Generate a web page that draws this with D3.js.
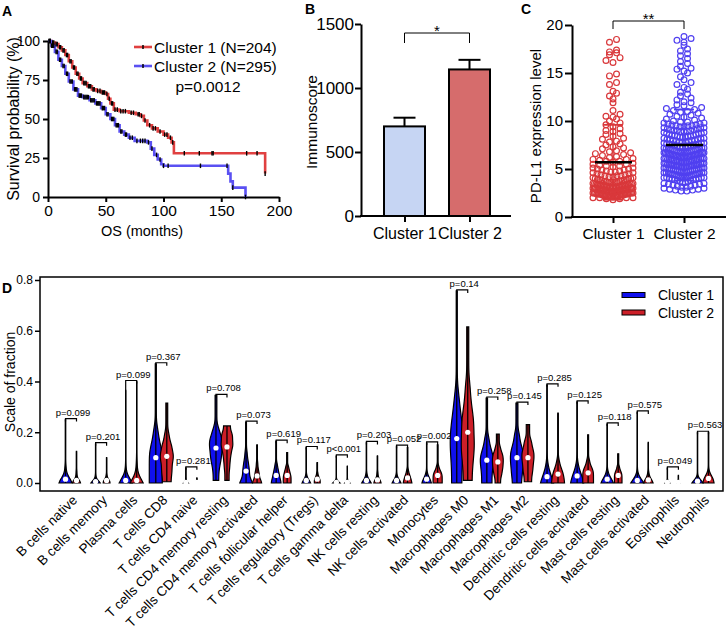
<!DOCTYPE html>
<html><head><meta charset="utf-8">
<script src="https://cdn.jsdelivr.net/npm/d3@7"></script>
<style>body{margin:0;background:#fff} svg{display:block;font-family:"Liberation Sans",Arial,sans-serif}</style>
</head><body><svg id="c" width="726" height="631"></svg>
<script>
// ================= Panel A: Kaplan-Meier =================
const kmRedTimes = [0,3,6,9,12,15,18,21,24,27,30,34,38,42,46,50,52,54,57,62,70,76,80,83,86,90,95,100,104,107,109,188];
const kmRedSurv  = [100,99,98,96,94,91,87,83,79,76,73,71,69,68,67,66,63,60,56,55,54,53,52,49,46,44,42,40,38,35,28,15];
const kmBlueTimes = [0,3,6,9,12,15,18,22,26,30,36,41,46,50,54,58,62,66,70,75,86,89,92,95,98,100,156,158,160,171];
const kmBlueSurv  = [100,97,93,88,84,79,74,69,65,64,62,60,57,53,50,46,42,40,38,36,35,31,27,24,21,20,15,10,6,0];
const kmRedCensor = [1,2,4,5,7,8,10,11,13,14,16,17,19,20,22,23,25,26,28,29,31,32,33,35,36,37,39,40,43,45,47,48,49,51,53,55,56,58,60,63,65,67,72,74,78,79,81,84,88,91,93,97,101,103,106,108,118,131,142,143,172,181,188];
const kmBlueCensor = [1,2,3,4,5,7,8,10,11,13,14,16,17,19,20,21,23,24,25,27,28,29,31,32,33,34,35,37,38,39,40,42,43,44,45,47,48,49,51,52,55,56,57,59,60,61,63,64,67,68,71,73,77,80,82,84,87,90,94,97,100,104,132,155,160,171];
const kmXTicks = [0,50,100,150,200];
const kmYTicks = [0,25,50,75,100];
const kmLegend = ["Cluster 1 (N=204)","Cluster 2 (N=295)"];
const kmPText = "p=0.0012";

// ================= Panel B: Immunoscore =================
const immCategories = ["Cluster 1","Cluster 2"];
const immMeans = [700, 1145];
const immErrors = [68, 75];
const immTicks = [0,500,1000,1500];

// ================= Panel C: PD-L1 =================
const pdl1Categories = ["Cluster 1","Cluster 2"];
const pdl1Cluster1 = [18.5,18.2,17.4,17.2,17.1,16.9,16.6,16.3,16.1,14.9,14.7,14.0,13.8,13.1,12.9,12.6,12.3,11.9,11.1,10.7,10.5,10.4,10.2,10.0,9.8,9.6,9.4,9.2,9.0,8.9,8.7,8.6,8.4,8.2,8.1,7.9,7.8,7.6,7.5,7.3,7.2,7.1,6.9,6.8,6.7,6.6,6.5,6.4,6.3,6.2,6.1,6.0,6.0,5.9,5.8,5.8,5.7,5.6,5.5,5.5,5.4,5.3,5.3,5.2,5.1,5.1,5.0,5.0,4.9,4.9,4.8,4.8,4.7,4.7,4.6,4.6,4.5,4.5,4.4,4.4,4.3,4.3,4.3,4.2,4.2,4.1,4.1,4.0,4.0,4.0,3.9,3.9,3.9,3.8,3.8,3.8,3.7,3.7,3.7,3.6,3.6,3.6,3.6,3.6,3.5,3.5,3.5,3.5,3.5,3.4,3.4,3.4,3.4,3.4,3.3,3.3,3.3,3.3,3.3,3.3,3.2,3.2,3.2,3.2,3.2,3.2,3.1,3.1,3.1,3.1,3.1,3.1,3.0,3.0,3.0,3.0,3.0,3.0,2.9,2.9,2.9,2.9,2.9,2.9,2.9,2.8,2.8,2.8,2.8,2.8,2.8,2.8,2.7,2.7,2.7,2.7,2.7,2.7,2.7,2.6,2.6,2.6,2.6,2.6,2.6,2.6,2.5,2.5,2.5,2.5,2.5,2.5,2.5,2.4,2.4,2.4,2.4,2.4,2.4,2.4,2.3,2.3,2.3,2.3,2.3,2.3,2.3,2.2,2.2,2.2,2.2,2.2,2.2,2.1,2.1,2.1,2.1,2.0,2.0,2.0,2.0,1.9,1.9,1.8];
const pdl1Cluster2 = [18.8,18.6,18.4,18.2,17.9,17.5,17.3,17.0,16.8,16.5,16.2,16.0,15.7,15.5,15.4,15.2,15.0,14.6,14.3,14.0,13.8,13.5,13.3,13.0,12.8,12.6,12.4,12.2,12.0,11.9,11.7,11.6,11.4,11.3,11.2,11.1,11.0,10.9,10.8,10.7,10.6,10.5,10.4,10.3,10.2,10.1,10.0,9.9,9.8,9.7,9.6,9.5,9.5,9.4,9.3,9.3,9.2,9.1,9.0,9.0,8.9,8.9,8.8,8.7,8.7,8.6,8.5,8.5,8.4,8.4,8.3,8.3,8.2,8.2,8.1,8.1,8.0,8.0,7.9,7.9,7.8,7.8,7.7,7.7,7.6,7.6,7.5,7.5,7.5,7.4,7.4,7.3,7.3,7.2,7.2,7.1,7.1,7.0,7.0,7.0,
9.9,9.8,9.7,9.6,9.5,9.4,9.3,9.2,9.1,9.0,8.9,8.8,8.7,8.6,8.5,8.4,8.3,8.2,8.1,8.0,7.8,7.7,7.6,7.5,7.4,7.3,7.2,7.1,7.0,
6.9,6.9,6.9,6.9,6.9,6.8,6.8,6.8,6.8,6.8,6.7,6.7,6.7,6.7,6.7,6.6,6.6,6.6,6.6,6.6,6.5,6.5,6.5,6.5,6.5,6.4,6.4,6.4,6.4,6.4,6.3,6.3,6.3,6.3,6.3,6.2,6.2,6.2,6.2,6.2,6.1,6.1,6.1,6.1,6.1,6.0,6.0,6.0,6.0,6.0,5.9,5.9,5.9,5.9,5.9,5.8,5.8,5.8,5.8,5.8,5.7,5.7,5.7,5.7,5.7,5.6,5.6,5.6,5.6,5.6,5.5,5.5,5.5,5.5,5.5,5.4,5.4,5.4,5.4,5.4,5.3,5.3,5.3,5.3,5.3,5.2,5.2,5.2,5.2,5.2,5.1,5.1,5.1,5.1,5.1,5.0,5.0,5.0,5.0,5.0,
4.9,4.9,4.9,4.9,4.8,4.8,4.8,4.8,4.7,4.7,4.7,4.7,4.6,4.6,4.6,4.6,4.5,4.5,4.5,4.5,4.4,4.4,4.4,4.4,4.3,4.3,4.3,4.3,4.2,4.2,4.2,4.2,4.1,4.1,4.1,4.1,4.0,4.0,4.0,4.0,
3.9,3.9,3.8,3.8,3.7,3.7,3.6,3.6,3.5,3.5,3.4,3.4,3.3,3.3,3.2,3.2,3.1,3.1,3.0,3.0,2.9,2.9,2.8,2.8,2.7,2.7];
const pdl1Means = [5.7, 7.5];
const pdl1SD = [3.9, 3.7];
const pdl1Ticks = [0,5,10,15,20];

// ================= Panel D: immune cell fractions =================
const cellTypes = ["B cells native","B cells memory","Plasma cells","T cells CD8","T cells CD4 naive","T cells CD4 memory resting","T cells CD4 memory activated","T cells follicular helper","T cells regulatory (Tregs)","T cells gamma delta","NK cells resting","NK cells activated","Monocytes","Macrophages M0","Macrophages M1","Macrophages M2","Dendritic cells resting","Dendritic cells activated","Mast cells resting","Mast cells activated","Eosinophils","Neutrophils"];
const cellPValues = ["p=0.099","p=0.201","p=0.099","p=0.367","p=0.281","p=0.708","p=0.073","p=0.619","p=0.117","p<0.001","p=0.203","p=0.052","p=0.002","p=0.14","p=0.258","p=0.145","p=0.285","p=0.125","p=0.118","p=0.575","p=0.049","p=0.563"];
// deciles (min,10%,...,90%,max) of each cell fraction
const cluster1Quantiles = [
 [0,.002,.005,.008,.012,.015,.02,.028,.04,.07,.25],
 [0,.001,.002,.003,.004,.006,.008,.011,.016,.03,.155],
 [0,.002,.004,.006,.008,.01,.014,.02,.03,.06,.365],
 [0,.02,.04,.06,.08,.10,.12,.14,.17,.22,.47],
 [0,.0005,.001,.0015,.002,.003,.004,.006,.01,.02,.06],
 [.01,.05,.08,.10,.12,.138,.155,.17,.19,.22,.345],
 [0,.005,.012,.022,.035,.047,.06,.075,.095,.13,.24],
 [0,.005,.01,.016,.023,.03,.038,.048,.06,.08,.165],
 [0,.001,.003,.005,.007,.01,.013,.017,.023,.035,.14],
 [0,.0005,.001,.0015,.002,.003,.004,.006,.009,.015,.107],
 [0,.001,.003,.005,.007,.01,.014,.019,.026,.04,.16],
 [0,.001,.003,.005,.007,.01,.013,.017,.023,.035,.145],
 [0,.002,.005,.008,.011,.015,.019,.024,.031,.045,.158],
 [0,.04,.08,.115,.145,.175,.205,.24,.285,.36,.757],
 [0,.02,.04,.058,.075,.09,.105,.122,.145,.185,.335],
 [0,.025,.045,.065,.083,.1,.117,.135,.16,.2,.315],
 [0,.003,.007,.012,.018,.025,.032,.042,.056,.085,.387],
 [0,.004,.009,.015,.021,.028,.035,.045,.058,.085,.32],
 [0,.002,.005,.008,.011,.015,.019,.025,.034,.05,.233],
 [0,.001,.003,.005,.007,.01,.013,.018,.025,.04,.28],
 [0,.0005,.001,.0015,.002,.003,.004,.005,.007,.012,.06],
 [0,.001,.002,.003,.005,.007,.009,.012,.016,.025,.2]
];
const cluster2Quantiles = [
 [0,.002,.004,.006,.008,.01,.014,.02,.03,.05,.125],
 [0,.002,.004,.006,.008,.01,.013,.017,.022,.035,.10],
 [0,.002,.004,.006,.008,.01,.015,.025,.045,.09,.40],
 [.005,.03,.05,.07,.09,.105,.12,.14,.16,.2,.315],
 [0,.0005,.001,.0015,.002,.003,.004,.005,.007,.01,.02],
 [.01,.05,.08,.105,.125,.142,.155,.17,.185,.2,.225],
 [0,.004,.008,.013,.02,.028,.036,.046,.06,.085,.15],
 [0,.006,.012,.018,.024,.03,.037,.045,.055,.07,.12],
 [0,.003,.006,.009,.012,.015,.019,.024,.03,.042,.08],
 [0,.0005,.001,.0015,.002,.003,.004,.006,.009,.015,.067],
 [0,.002,.004,.007,.009,.012,.016,.021,.03,.045,.107],
 [0,.003,.007,.011,.015,.02,.025,.031,.04,.055,.14],
 [0,.006,.012,.018,.024,.03,.036,.043,.052,.07,.15],
 [.01,.06,.1,.135,.165,.2,.235,.27,.32,.4,.615],
 [0,.025,.042,.057,.07,.083,.095,.108,.122,.145,.193],
 [.005,.03,.05,.068,.085,.1,.115,.13,.15,.175,.23],
 [0,.006,.013,.02,.027,.035,.043,.053,.067,.095,.275],
 [0,.008,.016,.024,.032,.04,.048,.057,.07,.095,.19],
 [0,.006,.012,.018,.024,.03,.036,.043,.052,.068,.115],
 [0,.002,.004,.007,.009,.012,.016,.021,.029,.045,.16],
 [0,.0005,.001,.0015,.002,.003,.004,.005,.007,.01,.03],
 [0,.003,.006,.01,.014,.018,.022,.027,.035,.05,.2]
];
const fracTicks = [0,0.2,0.4,0.6,0.8];
const dLegend = ["Cluster 1","Cluster 2"];

// ================= drawing =================
const svg = d3.select("#c");
svg.append("rect").attr("width",726).attr("height",631).attr("fill","#fff");
const FONT = '"Liberation Sans",Arial,sans-serif';

function styleAxis(g, fs, sw){
  g.selectAll("text").attr("font-size",fs).attr("fill","#000").attr("font-family",FONT);
  g.selectAll(".tick line").attr("stroke","#000").attr("stroke-width",sw);
  g.select(".domain").attr("stroke","#000").attr("stroke-width",sw);
}
function panelLabel(t,x,y){
  svg.append("text").attr("x",x).attr("y",y).attr("font-size",14).attr("font-weight","bold").text(t);
}

// ---------- A ----------
(function(){
  const x = d3.scaleLinear([0,200],[48,279]);
  const y = d3.scaleLinear([0,100],[197,41]);
  const g = svg.append("g");
  panelLabel("A",2,16);
  const gx = g.append("g").attr("transform","translate(0,197)")
    .call(d3.axisBottom(x).tickValues(kmXTicks).tickSize(5).tickSizeOuter(0).tickPadding(3));
  styleAxis(gx,15.5,2);
  const gy = g.append("g").attr("transform","translate(48,0)")
    .call(d3.axisLeft(y).tickValues(kmYTicks).tickSize(5).tickSizeOuter(0).tickPadding(3));
  styleAxis(gy,14,2);
  g.append("text").attr("transform","translate(13,119) rotate(-90)").attr("text-anchor","middle")
    .attr("dominant-baseline","central").attr("font-size",16).text("Survival probability (%)");
  g.append("text").attr("x",142).attr("y",236).attr("text-anchor","middle").attr("font-size",14.5).text("OS (months)");
  const line = d3.line().x(d=>x(d[0])).y(d=>y(d[1])).curve(d3.curveStepAfter);
  const series = [
    {t:kmRedTimes,s:kmRedSurv,c:kmRedCensor,col:"#e04040"},
    {t:kmBlueTimes,s:kmBlueSurv,c:kmBlueCensor,col:"#5a50f2"}
  ];
  series.forEach(sr=>{
    g.append("path").attr("d",line(d3.zip(sr.t,sr.s))).attr("fill","none").attr("stroke",sr.col).attr("stroke-width",2.6);
  });
  series.forEach(sr=>{
    sr.c.forEach(t=>{
      let v=sr.s[0]; sr.t.forEach((tt,i)=>{ if(tt<=t) v=sr.s[i]; });
      g.append("line").attr("x1",x(t)).attr("x2",x(t)).attr("y1",y(v)-2.3).attr("y2",y(v)+2.3)
        .attr("stroke","#000").attr("stroke-width",1.4);
    });
  });
  const cols=["#e04040","#5a50f2"];
  kmLegend.forEach((t,i)=>{
    const yy=47+i*19;
    g.append("line").attr("x1",134).attr("x2",152).attr("y1",yy).attr("y2",yy).attr("stroke",cols[i]).attr("stroke-width",2.6);
    g.append("line").attr("x1",143).attr("x2",143).attr("y1",yy-2).attr("y2",yy+2).attr("stroke","#000").attr("stroke-width",1.5);
    g.append("text").attr("x",154).attr("y",yy).attr("dominant-baseline","central").attr("font-size",15.5).text(t);
  });
  g.append("text").attr("x",208).attr("y",86).attr("text-anchor","middle").attr("dominant-baseline","central").attr("font-size",15.5).text(kmPText);
})();

// ---------- B ----------
(function(){
  const y = d3.scaleLinear([0,1500],[216,24]);
  const x = d3.scalePoint(immCategories,[404.5,469.5]);
  const g = svg.append("g");
  panelLabel("B",305,14);
  const cols=["#c6d5f3","#d66c6c"];
  immCategories.forEach((c,i)=>{
    const cx=x(c);
    g.append("line").attr("x1",cx).attr("x2",cx).attr("y1",y(immMeans[i])).attr("y2",y(immMeans[i]+immErrors[i])).attr("stroke","#000").attr("stroke-width",2);
    g.append("line").attr("x1",cx-11).attr("x2",cx+11).attr("y1",y(immMeans[i]+immErrors[i])).attr("y2",y(immMeans[i]+immErrors[i])).attr("stroke","#000").attr("stroke-width",2);
    g.append("rect").attr("x",cx-20.5).attr("width",41).attr("y",y(immMeans[i])).attr("height",y(0)-y(immMeans[i]))
      .attr("fill",cols[i]).attr("stroke","#000").attr("stroke-width",2);
  });
  const gy = g.append("g").attr("transform","translate(361,0)")
    .call(d3.axisLeft(y).tickValues(immTicks).tickFormat(d3.format("d")).tickSize(6).tickSizeOuter(0).tickPadding(1));
  styleAxis(gy,17,2);
  g.append("line").attr("x1",360).attr("x2",511).attr("y1",216).attr("y2",216).attr("stroke","#000").attr("stroke-width",2);
  const gx = g.append("g").attr("transform","translate(0,216)")
    .call(d3.axisBottom(x).tickSize(6).tickSizeOuter(0).tickPadding(6));
  gx.select(".domain").remove();
  styleAxis(gx,16,2);
  g.append("text").attr("transform","translate(311,122) rotate(-90)").attr("text-anchor","middle")
    .attr("dominant-baseline","central").attr("font-size",15.5).text("Immunoscore");
  g.append("path").attr("d",`M${x(immCategories[0])},43V33H${x(immCategories[1])}V43`).attr("fill","none").attr("stroke","#000").attr("stroke-width",1);
  g.append("text").attr("x",(x(immCategories[0])+x(immCategories[1]))/2).attr("y",36).attr("text-anchor","middle").attr("font-size",15).text("*");
})();

// ---------- C ----------
(function(){
  const y = d3.scaleLinear([0,20],[217,25]);
  const x = d3.scalePoint(pdl1Categories,[613,684]);
  const g = svg.append("g");
  panelLabel("C",521,14);
  const cols=["#d9383b","#5040f0"];
  function swarm(vals,cx){
    const r=3.2, maxHalf=20, binH=5;
    const pts=vals.map(v=>({v,py:y(v)}));
    const bins=d3.group(pts,d=>Math.round(d.py/binH));
    const out=[];
    for(const [,arr] of bins){
      arr.sort((a,b)=>a.v-b.v);
      const n=arr.length;
      const st = n>1 ? Math.min(2*r*1.1, 2*maxHalf/(n-1)) : 0;
      const slots=d3.range(n).map(i=>(i-(n-1)/2)*st).sort((a,b)=>Math.abs(a)-Math.abs(b)||a-b);
      arr.forEach((d,i)=>out.push({v:d.v,py:d.py,px:cx+slots[i]}));
    }
    return out;
  }
  [pdl1Cluster1,pdl1Cluster2].forEach((vals,i)=>{
    const cx=x(pdl1Categories[i]);
    g.append("g").selectAll("circle").data(swarm(vals,cx)).join("circle")
      .attr("cx",d=>d.px).attr("cy",d=>d.py).attr("r",2.9)
      .attr("fill","none").attr("stroke",cols[i]).attr("stroke-width",1.2);
  });
  [0,1].forEach(i=>{
    const cx=x(pdl1Categories[i]), m=pdl1Means[i], s=pdl1SD[i];
    g.append("line").attr("x1",cx).attr("x2",cx).attr("y1",y(m-s)).attr("y2",y(m+s)).attr("stroke",cols[i]).attr("stroke-width",1.5);
    [m-s,m+s].forEach(v=>g.append("line").attr("x1",cx-10).attr("x2",cx+10).attr("y1",y(v)).attr("y2",y(v)).attr("stroke",cols[i]).attr("stroke-width",1.8));
    g.append("line").attr("x1",cx-18).attr("x2",cx+19).attr("y1",y(m)).attr("y2",y(m)).attr("stroke","#000").attr("stroke-width",2.6);
  });
  const gy = g.append("g").attr("transform","translate(572,0)")
    .call(d3.axisLeft(y).tickValues(pdl1Ticks).tickSize(7).tickSizeOuter(0).tickPadding(2));
  styleAxis(gy,15,2);
  g.append("line").attr("x1",571).attr("x2",726).attr("y1",217).attr("y2",217).attr("stroke","#000").attr("stroke-width",2);
  const gx = g.append("g").attr("transform","translate(0,217)")
    .call(d3.axisBottom(x).tickSize(6).tickSizeOuter(0).tickPadding(5));
  gx.select(".domain").remove();
  styleAxis(gx,15.5,2);
  g.append("text").attr("transform","translate(535,126) rotate(-90)").attr("text-anchor","middle")
    .attr("dominant-baseline","central").attr("font-size",15).text("PD-L1 expression level");
  g.append("path").attr("d",`M${x(pdl1Categories[0])},29V21H${x(pdl1Categories[1])}V29`).attr("fill","none").attr("stroke","#000").attr("stroke-width",1);
  g.append("text").attr("x",(x(pdl1Categories[0])+x(pdl1Categories[1]))/2).attr("y",24).attr("text-anchor","middle").attr("font-size",15).text("**");
})();

// ---------- D ----------
(function(){
  const y = d3.scaleLinear([0,0.8],[483,280]);
  const x = d3.scalePoint(cellTypes,[71,703]);
  const g = svg.append("g");
  panelLabel("D",2,293);
  g.append("rect").attr("x",40).attr("y",277).attr("width",683).attr("height",214).attr("fill","none").attr("stroke","#000").attr("stroke-width",1.5);
  const gy = g.append("g").attr("transform","translate(40,0)")
    .call(d3.axisLeft(y).tickValues(fracTicks).tickFormat(d3.format(".1f")).tickSize(5).tickSizeOuter(0).tickPadding(2));
  gy.select(".domain").remove();
  styleAxis(gy,12,1.5);
  g.append("text").attr("transform","translate(10,382) rotate(-90)").attr("text-anchor","middle")
    .attr("dominant-baseline","central").attr("font-size",14).text("Scale of fraction");

  function shape(q){
    const lo=q[0], hi=q[q.length-1], N=120, nb=q.length-1;
    const step=(hi-lo)/N;
    const raw=d3.range(N+1).map(k=>{
      const v=lo+k*step; let i=0;
      while(i<nb-1 && v>=q[i+1]) i++;
      return (1/nb)/Math.max(q[i+1]-q[i],1e-4);
    });
    const h=Math.max(0.004,0.05*(hi-lo))/step;
    const sm=raw.map((_,k)=>{let s=0,ws=0;for(let j=0;j<=N;j++){const u=(j-k)/h;const gg=Math.exp(-0.5*u*u);s+=gg*raw[j];ws+=gg;}return s/ws;});
    const mx=d3.max(sm);
    const size=Math.min(1,Math.pow((hi-lo)/0.25,0.7));
    return sm.map((d,k)=>({v:lo+k*step,w:6.5*size*d/mx}));
  }
  const vcols=["#1010ee","#cc1f28"];
  cellTypes.forEach((c,ci)=>{
    const cx=x(c);
    [cluster1Quantiles[ci],cluster2Quantiles[ci]].forEach((q,si)=>{
      const vx=cx+(si===0?-5.5:5.5);
      const pts=shape(q);
      const area=d3.area().y(d=>y(d.v)).x0(d=>vx-d.w).x1(d=>vx+d.w).curve(d3.curveBasis);
      g.append("path").attr("d",area(pts)).attr("fill",vcols[si]).attr("stroke","#000").attr("stroke-width",1.2);
      g.append("line").attr("x1",vx).attr("x2",vx).attr("y1",y(q[0])).attr("y2",y(q[10])).attr("stroke","#000").attr("stroke-width",1.3);
      g.append("circle").attr("cx",vx).attr("cy",y(q[5])).attr("r",2.6).attr("fill","#fff");
    });
    const q1=cluster1Quantiles[ci], q2=cluster2Quantiles[ci];
    const bv=Math.max(q1[10],q2[10]);
    const by=y(bv)-1;
    const xl=cx-5.5, xr=cx+5.5;
    g.append("path").attr("d",`M${xl},${Math.max(y(q1[10]),by+3)}V${by}H${xr}V${by+3}`).attr("fill","none").attr("stroke","#000").attr("stroke-width",1.2);
    g.append("text").attr("x",cx+2).attr("y",by-3).attr("text-anchor","middle").attr("font-size",9.5).text(cellPValues[ci]);
    g.append("text").attr("transform",`translate(${cx+7},${501}) rotate(-45)`).attr("text-anchor","end")
      .attr("font-size",13.5).text(c);
  });
  dLegend.forEach((t,i)=>{
    const yy=295+i*17.5;
    g.append("rect").attr("x",622).attr("y",yy-2.5).attr("width",23).attr("height",5).attr("fill",vcols[i]).attr("stroke","#000").attr("stroke-width",1);
    g.append("text").attr("x",658).attr("y",yy).attr("dominant-baseline","central").attr("font-size",14).text(t);
  });
})();
</script></body></html>
